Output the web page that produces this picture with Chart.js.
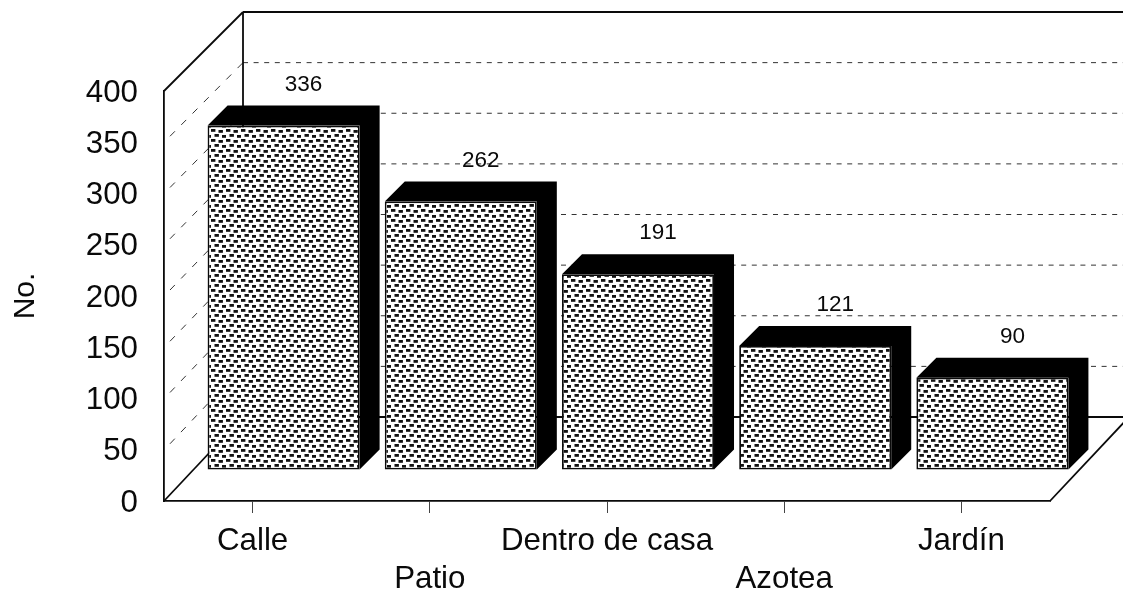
<!DOCTYPE html>
<html>
<head>
<meta charset="utf-8">
<style>html,body{margin:0;padding:0;background:#fff}canvas{display:block}</style>
<script src="https://cdn.jsdelivr.net/npm/chart.js@4"></script>
</head>
<body>
<canvas id="c" width="1123" height="593"></canvas>
<script>
const categories = ['Calle', 'Patio', 'Dentro de casa', 'Azotea', 'Jardín'];
const counts = [336, 262, 191, 121, 90];
const yTicks = [0, 50, 100, 150, 200, 250, 300, 350, 400];
const yTitle = 'No.';

const FONT = '"Liberation Sans", Arial, sans-serif';
const INK = '#0a0a0a';
const FACE_DX = 31, FACE_DY = -31;   // bar front plane relative to the axis plane
const BAR_DEPTH = 20;
const WALL_DX = 79, WALL_DY_BASE = 84, WALL_DY_TOP = 79;

function stipple() {
  const t = document.createElement('canvas');
  t.width = 15; t.height = 10;
  const g = t.getContext('2d');
  g.fillStyle = '#fff'; g.fillRect(0, 0, 15, 10);
  g.fillStyle = '#111';
  [[0,0],[7.5,1],[3.5,5],[11,6]].forEach(p => g.fillRect(p[0], p[1], 4.4, 2.8));
  return g.createPattern(t, 'repeat');
}

const scene = {
  id: 'scene',
  beforeDatasetsDraw(chart) {
    const { ctx, scales: { x, y }, chartArea: a } = chart;
    const backY = v => y.getPixelForValue(v) - WALL_DY_BASE + (WALL_DY_BASE - WALL_DY_TOP) * v / 400;
    const bx = a.left + WALL_DX, W = chart.width;
    ctx.save();
    ctx.strokeStyle = '#333'; ctx.lineWidth = 1;
    ctx.setLineDash([5, 5.6]);
    yTicks.slice(1, -1).forEach(v => {
      const b = backY(v);
      ctx.beginPath(); ctx.moveTo(bx, b); ctx.lineTo(W, b); ctx.stroke();
    });
    ctx.setLineDash([7, 9]);
    yTicks.slice(1, -1).forEach(v => {
      const b = backY(v);
      ctx.beginPath(); ctx.moveTo(a.left + 6, y.getPixelForValue(v) - 6); ctx.lineTo(bx, b); ctx.stroke();
    });
    ctx.setLineDash([]);
    ctx.strokeStyle = INK;
    ctx.lineWidth = 1.8;
    const y0 = y.getPixelForValue(0), yT = y.getPixelForValue(400);
    const b0 = backY(0), bT = backY(400);
    const line = (p, q, r, s) => { ctx.beginPath(); ctx.moveTo(p, q); ctx.lineTo(r, s); ctx.stroke(); };
    line(a.left, yT, bx, bT);
    line(bx, bT, W, bT);
    line(bx, bT, bx, b0);
    line(a.left, y0, bx, b0);
    line(bx, b0, W, b0);
    line(a.right, y0, a.right + WALL_DX, b0);
    ctx.fillStyle = '#000';
    chart.getDatasetMeta(0).data.forEach(bar => {
      const l = bar.x - bar.width / 2 + FACE_DX, r = bar.x + bar.width / 2 + FACE_DX;
      const t = bar.y + FACE_DY, bt = bar.base + FACE_DY, d = BAR_DEPTH;
      ctx.beginPath();
      ctx.moveTo(l, t); ctx.lineTo(l + d, t - d); ctx.lineTo(r + d, t - d);
      ctx.lineTo(r + d, bt - d); ctx.lineTo(r, bt); ctx.lineTo(r, t); ctx.closePath();
      ctx.fill();
    });
    ctx.restore();
  },
  beforeDatasetDraw(chart) {
    chart.ctx.save();
    chart.ctx.translate(FACE_DX, FACE_DY);
  },
  afterDatasetDraw(chart) {
    chart.ctx.restore();
  },
  afterDatasetsDraw(chart) {
    const { ctx } = chart;
    ctx.save();
    ctx.fillStyle = INK;
    ctx.font = '22.5px ' + FONT;
    ctx.textAlign = 'center'; ctx.textBaseline = 'middle';
    chart.getDatasetMeta(0).data.forEach((bar, i) => {
      ctx.fillText(String(counts[i]), bar.x + FACE_DX + BAR_DEPTH, bar.y + FACE_DY - BAR_DEPTH - 21);
    });
    ctx.restore();
  }
};

new Chart(document.getElementById('c'), {
  type: 'bar',
  data: {
    labels: categories,
    datasets: [{
      data: counts,
      backgroundColor: stipple(),
      borderColor: INK,
      borderWidth: 1.8,
      borderSkipped: false,
      barPercentage: 0.858,
      categoryPercentage: 1,
      clip: false
    }]
  },
  plugins: [scene],
  options: {
    responsive: false,
    animation: false,
    layout: { padding: { top: 91, right: 73, left: 0, bottom: 0 } },
    plugins: { legend: { display: false }, tooltip: { enabled: false } },
    scales: {
      x: {
        afterFit(s) { s.height = 92; },
        grid: { drawOnChartArea: false, drawTicks: true, tickLength: 12, color: '#444', offset: false },
        border: { display: true, color: INK, width: 1.8 },
        ticks: {
          color: INK, maxRotation: 0, autoSkip: false, padding: 9,
          font: { family: FONT, size: 31.3, lineHeight: 1.23 },
          callback(v, i) { return i % 2 ? ['', categories[i]] : categories[i]; }
        }
      },
      y: {
        min: 0, max: 400,
        afterFit(s) { s.width = 164; },
        afterBuildTicks(s) { s.ticks = yTicks.map(v => ({ value: v })); },
        grid: { drawOnChartArea: false, drawTicks: false },
        border: { display: true, color: INK, width: 1.8 },
        title: { display: true, text: yTitle, color: INK, font: { family: FONT, size: 30 }, padding: { top: 8, bottom: 0 } },
        ticks: { color: INK, padding: 26, labelOffset: 2, font: { family: FONT, size: 31.3 } }
      }
    }
  }
});
</script>
</body>
</html>
